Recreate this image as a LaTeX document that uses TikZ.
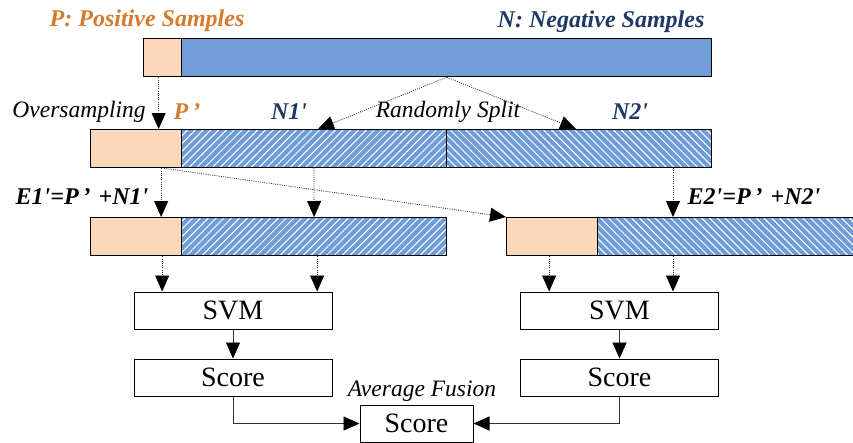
\documentclass[tikz,border=0pt]{standalone}
\usepackage{fontspec}
\setmainfont{Liberation Serif}
\usetikzlibrary{arrows.meta,patterns.meta}
\definecolor{peach}{RGB}{251,216,185}
\definecolor{barblue}{RGB}{112,157,215}
\definecolor{posorange}{RGB}{214,122,46}
\definecolor{negnavy}{RGB}{31,56,100}
\newcommand{\pr}{\textquotesingle}
\begin{document}
\begin{tikzpicture}[x=1pt,y=-1pt,
        bar/.style={draw, line width=1.3pt, minimum height=38pt, inner sep=0pt, anchor=north west},
        pbar/.style={bar, fill=peach},
        nbar/.style={bar, fill=barblue},
        hatchr/.style={bar, preaction={fill=barblue}, pattern={Lines[angle=45,distance=5.5pt,line width=1pt]}, pattern color=white},
        hatchl/.style={bar, preaction={fill=barblue}, pattern={Lines[angle=-45,distance=5.5pt,line width=1pt]}, pattern color=white},
        blk/.style={draw, line width=1pt, minimum width=198pt, minimum height=37pt, inner sep=0pt, font=\fontsize{28}{32}\selectfont},
        lab/.style={font=\fontsize{23.5}{27}\selectfont\itshape},
        blab/.style={font=\fontsize{24}{28}\selectfont\bfseries\itshape},
        dotarr/.style={line width=0.8pt, dash pattern=on 1pt off 1.2pt, black!80, -{Triangle[length=16pt,width=14pt,color=black]}},
        arr/.style={line width=0.8pt, black!80, -{Triangle[length=16pt,width=14pt,color=black]}}]
    \useasboundingbox (0,0) rectangle (853,442);
    % original set
    \node[pbar, minimum width=38pt] (p0) at (143,38) {};
    \node[nbar, minimum width=530pt] (n0) at (181,38) {};
    \node[blab, text=posorange] (ptxt) at (147,21) {P: Positive Samples};
    \node[blab, text=negnavy] (ntxt) at (601,22) {N: Negative Samples};
    % oversampled and split set
    \node[pbar, minimum width=91pt] (p1) at (90,129) {};
    \node[hatchr, minimum width=265pt] (n1a) at (181,129) {};
    \node[hatchl, minimum width=265pt] (n1b) at (446,129) {};
    \node[lab] (over) at (79,112) {Oversampling};
    \node[blab, text=posorange] (p1txt) at (187,112) {P\,’};
    \node[blab, text=negnavy] (n1txt) at (289,112) {N1\pr};
    \node[lab] (split) at (448,112) {Randomly Split};
    \node[blab, text=negnavy] (n2txt) at (630,112) {N2\pr};
    % two training sets
    \node[pbar, minimum width=91pt] (p2) at (90,217) {};
    \node[hatchr, minimum width=265pt] (n2) at (181,217) {};
    \node[pbar, minimum width=91pt] (p3) at (506,217) {};
    \node[hatchl, minimum width=265pt] (n3) at (597,217) {};
    \node[blab] (e1) at (82,197) {E1\pr=P\,’\,\,+N1\pr};
    \node[blab] (e2) at (754,197) {E2\pr=P\,’\,\,+N2\pr};
    % classifiers
    \node[blk] (svm1) at (233,310.5) {SVM};
    \node[blk] (svm2) at (619.5,310.5) {SVM};
    \node[blk] (sc1) at (233,377.5) {Score};
    \node[blk] (sc2) at (619.5,377.5) {Score};
    \node[blk, minimum width=113pt] (fs) at (416.5,423.5) {Score};
    \node[lab] (fuse) at (422,391) {Average Fusion};
    % connectors
    \draw[dotarr] ([xshift=-4pt]p0.south) -- ([xshift=-4pt]p0.south |- p1.north);
    \draw[dotarr] (n0.south) -- ([xshift=4pt]n1a.north);
    \draw[dotarr] (n0.south) -- ([xshift=-3pt]n1b.north);
    \draw[dotarr] ([xshift=25pt]p1.south) -- ([xshift=25pt]p2.north);
    \draw[dotarr] (n1a.south) -- (n2.north);
    \draw[dotarr] ([xshift=28pt]p1.south) -- (p3.north west);
    \draw[dotarr] ([xshift=94pt]n1b.south) -- ([xshift=94pt]n1b.south |- n3.north);
    \draw[dotarr] ([xshift=26pt]p2.south) -- ([xshift=26pt]p2.south |- svm1.north);
    \draw[dotarr] ([xshift=3pt]n2.south) -- ([xshift=3pt]n2.south |- svm1.north);
    \draw[dotarr] ([xshift=-3pt]p3.south) -- ([xshift=-3pt]p3.south |- svm2.north);
    \draw[dotarr] ([xshift=76pt]n3.south west) -- ([xshift=76pt]n3.south west |- svm2.north);
    \draw[arr] (svm1) -- (sc1);
    \draw[arr] (svm2) -- (sc2);
    \draw[arr] (sc1.south) |- (fs.west);
    \draw[arr] (sc2.south) |- (fs.east);
\end{tikzpicture}
\end{document}
